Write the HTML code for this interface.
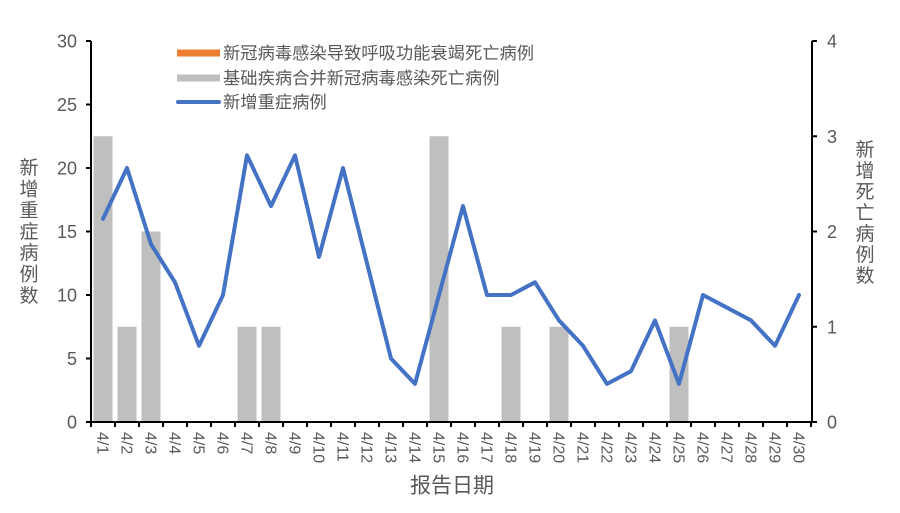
<!DOCTYPE html>
<html>
<head>
<meta charset="utf-8">
<style>
  html, body { margin: 0; padding: 0; background: #ffffff; }
  svg { display: block; }
  text { font-family: "Liberation Sans", "Noto Sans CJK SC", sans-serif; fill: #595959; }
</style>
</head>
<body>
<svg width="900" height="513" viewBox="0 0 900 513" xmlns="http://www.w3.org/2000/svg">
  <rect x="0" y="0" width="900" height="513" fill="#ffffff"/>

  <!-- Bars (right axis) -->
  <g fill="#BFBFBF">
    <rect x="93.5" y="136.25" width="19" height="285.75"/>
    <rect x="117.5" y="326.75" width="19" height="95.25"/>
    <rect x="141.5" y="231.5" width="19" height="190.5"/>
    <rect x="237.5" y="326.75" width="19" height="95.25"/>
    <rect x="261.5" y="326.75" width="19" height="95.25"/>
    <rect x="429.5" y="136.25" width="19" height="285.75"/>
    <rect x="501.5" y="326.75" width="19" height="95.25"/>
    <rect x="549.5" y="326.75" width="19" height="95.25"/>
    <rect x="669.5" y="326.75" width="19" height="95.25"/>
  </g>

  <!-- Line series -->
  <polyline fill="none" stroke="#4472C4" stroke-width="4" stroke-linejoin="round" stroke-linecap="round"
    points="103,218.8 127,168 151,244.2 175,282.3 199,345.8 223,295 247,155.3 271,206.1 295,155.3 319,256.9 343,168 367,263.25 391,358.5 415,383.9 439,295 463,206.1 487,295 511,295 535,282.3 559,320.4 583,345.8 607,383.9 631,371.2 655,320.4 679,383.9 703,295 727,307.7 751,320.4 775,345.8 799,295"/>

  <!-- Axes -->
  <g stroke="#000000" stroke-width="2" fill="none">
    <line x1="91" y1="41" x2="91" y2="423"/>
    <line x1="812" y1="41" x2="812" y2="423"/>
    <line x1="90" y1="422" x2="813" y2="422"/>
  </g>
  <!-- Left ticks -->
  <g stroke="#000000" stroke-width="2">
    <line x1="86" y1="422" x2="91" y2="422"/>
    <line x1="86" y1="358.5" x2="91" y2="358.5"/>
    <line x1="86" y1="295" x2="91" y2="295"/>
    <line x1="86" y1="231.5" x2="91" y2="231.5"/>
    <line x1="86" y1="168" x2="91" y2="168"/>
    <line x1="86" y1="104.5" x2="91" y2="104.5"/>
    <line x1="86" y1="41" x2="91" y2="41"/>
    <!-- Right ticks -->
    <line x1="812" y1="422" x2="817" y2="422"/>
    <line x1="812" y1="326.75" x2="817" y2="326.75"/>
    <line x1="812" y1="231.5" x2="817" y2="231.5"/>
    <line x1="812" y1="136.25" x2="817" y2="136.25"/>
    <line x1="812" y1="41" x2="817" y2="41"/>
  </g>
  <!-- X ticks -->
  <g stroke="#000000" stroke-width="2">
    <line x1="91" y1="422" x2="91" y2="427"/>
    <line x1="115" y1="422" x2="115" y2="427"/>
    <line x1="139" y1="422" x2="139" y2="427"/>
    <line x1="163" y1="422" x2="163" y2="427"/>
    <line x1="187" y1="422" x2="187" y2="427"/>
    <line x1="211" y1="422" x2="211" y2="427"/>
    <line x1="235" y1="422" x2="235" y2="427"/>
    <line x1="259" y1="422" x2="259" y2="427"/>
    <line x1="283" y1="422" x2="283" y2="427"/>
    <line x1="307" y1="422" x2="307" y2="427"/>
    <line x1="331" y1="422" x2="331" y2="427"/>
    <line x1="355" y1="422" x2="355" y2="427"/>
    <line x1="379" y1="422" x2="379" y2="427"/>
    <line x1="403" y1="422" x2="403" y2="427"/>
    <line x1="427" y1="422" x2="427" y2="427"/>
    <line x1="451" y1="422" x2="451" y2="427"/>
    <line x1="475" y1="422" x2="475" y2="427"/>
    <line x1="499" y1="422" x2="499" y2="427"/>
    <line x1="523" y1="422" x2="523" y2="427"/>
    <line x1="547" y1="422" x2="547" y2="427"/>
    <line x1="571" y1="422" x2="571" y2="427"/>
    <line x1="595" y1="422" x2="595" y2="427"/>
    <line x1="619" y1="422" x2="619" y2="427"/>
    <line x1="643" y1="422" x2="643" y2="427"/>
    <line x1="667" y1="422" x2="667" y2="427"/>
    <line x1="691" y1="422" x2="691" y2="427"/>
    <line x1="715" y1="422" x2="715" y2="427"/>
    <line x1="739" y1="422" x2="739" y2="427"/>
    <line x1="763" y1="422" x2="763" y2="427"/>
    <line x1="787" y1="422" x2="787" y2="427"/>
    <line x1="811" y1="422" x2="811" y2="427"/>
  </g>

  <!-- Left tick labels -->
  <g font-size="18" text-anchor="end">
    <text x="77" y="428.5">0</text>
    <text x="77" y="365">5</text>
    <text x="77" y="301.5">10</text>
    <text x="77" y="238">15</text>
    <text x="77" y="174.5">20</text>
    <text x="77" y="111">25</text>
    <text x="77" y="47.5">30</text>
  </g>
  <!-- Right tick labels -->
  <g font-size="18" text-anchor="start">
    <text x="827" y="428.5">0</text>
    <text x="827" y="333.25">1</text>
    <text x="827" y="238">2</text>
    <text x="827" y="142.75">3</text>
    <text x="827" y="47.5">4</text>
  </g>

  <!-- X tick labels (rotated) -->
  <g font-size="16">
    <text transform="translate(103,432) rotate(90)" x="0" y="5.5">4/1</text>
    <text transform="translate(127,432) rotate(90)" x="0" y="5.5">4/2</text>
    <text transform="translate(151,432) rotate(90)" x="0" y="5.5">4/3</text>
    <text transform="translate(175,432) rotate(90)" x="0" y="5.5">4/4</text>
    <text transform="translate(199,432) rotate(90)" x="0" y="5.5">4/5</text>
    <text transform="translate(223,432) rotate(90)" x="0" y="5.5">4/6</text>
    <text transform="translate(247,432) rotate(90)" x="0" y="5.5">4/7</text>
    <text transform="translate(271,432) rotate(90)" x="0" y="5.5">4/8</text>
    <text transform="translate(295,432) rotate(90)" x="0" y="5.5">4/9</text>
    <text transform="translate(319,432) rotate(90)" x="0" y="5.5">4/10</text>
    <text transform="translate(343,432) rotate(90)" x="0" y="5.5">4/11</text>
    <text transform="translate(367,432) rotate(90)" x="0" y="5.5">4/12</text>
    <text transform="translate(391,432) rotate(90)" x="0" y="5.5">4/13</text>
    <text transform="translate(415,432) rotate(90)" x="0" y="5.5">4/14</text>
    <text transform="translate(439,432) rotate(90)" x="0" y="5.5">4/15</text>
    <text transform="translate(463,432) rotate(90)" x="0" y="5.5">4/16</text>
    <text transform="translate(487,432) rotate(90)" x="0" y="5.5">4/17</text>
    <text transform="translate(511,432) rotate(90)" x="0" y="5.5">4/18</text>
    <text transform="translate(535,432) rotate(90)" x="0" y="5.5">4/19</text>
    <text transform="translate(559,432) rotate(90)" x="0" y="5.5">4/20</text>
    <text transform="translate(583,432) rotate(90)" x="0" y="5.5">4/21</text>
    <text transform="translate(607,432) rotate(90)" x="0" y="5.5">4/22</text>
    <text transform="translate(631,432) rotate(90)" x="0" y="5.5">4/23</text>
    <text transform="translate(655,432) rotate(90)" x="0" y="5.5">4/24</text>
    <text transform="translate(679,432) rotate(90)" x="0" y="5.5">4/25</text>
    <text transform="translate(703,432) rotate(90)" x="0" y="5.5">4/26</text>
    <text transform="translate(727,432) rotate(90)" x="0" y="5.5">4/27</text>
    <text transform="translate(751,432) rotate(90)" x="0" y="5.5">4/28</text>
    <text transform="translate(775,432) rotate(90)" x="0" y="5.5">4/29</text>
    <text transform="translate(799,432) rotate(90)" x="0" y="5.5">4/30</text>
  </g>

  <!-- X axis title -->
  <text x="452" y="486" font-size="21" text-anchor="middle" dominant-baseline="central">报告日期</text>

  <!-- Left axis title (vertical) -->
  <g font-size="19" text-anchor="middle">
    <text x="29" y="168.5" dominant-baseline="central">新</text>
    <text x="29" y="189.8" dominant-baseline="central">增</text>
    <text x="29" y="211.1" dominant-baseline="central">重</text>
    <text x="29" y="232.4" dominant-baseline="central">症</text>
    <text x="29" y="253.7" dominant-baseline="central">病</text>
    <text x="29" y="275" dominant-baseline="central">例</text>
    <text x="29" y="296.3" dominant-baseline="central">数</text>
  </g>

  <!-- Right axis title (vertical) -->
  <g font-size="19" text-anchor="middle">
    <text x="865" y="150.5" dominant-baseline="central">新</text>
    <text x="865" y="171.5" dominant-baseline="central">增</text>
    <text x="865" y="192.5" dominant-baseline="central">死</text>
    <text x="865" y="213.5" dominant-baseline="central">亡</text>
    <text x="865" y="234.5" dominant-baseline="central">病</text>
    <text x="865" y="255.5" dominant-baseline="central">例</text>
    <text x="865" y="276.5" dominant-baseline="central">数</text>
  </g>

  <!-- Legend -->
  <rect x="177" y="49.5" width="43" height="7" fill="#ED7D31"/>
  <rect x="177" y="74.5" width="43" height="7" fill="#BFBFBF"/>
  <line x1="178" y1="102" x2="219" y2="102" stroke="#4472C4" stroke-width="4" stroke-linecap="round"/>
  <g font-size="17.3">
    <text x="223" y="53" dominant-baseline="central">新冠病毒感染导致呼吸功能衰竭死亡病例</text>
    <text x="223" y="78" dominant-baseline="central">基础疾病合并新冠病毒感染死亡病例</text>
    <text x="223" y="102" dominant-baseline="central">新增重症病例</text>
  </g>
</svg>
</body>
</html>
